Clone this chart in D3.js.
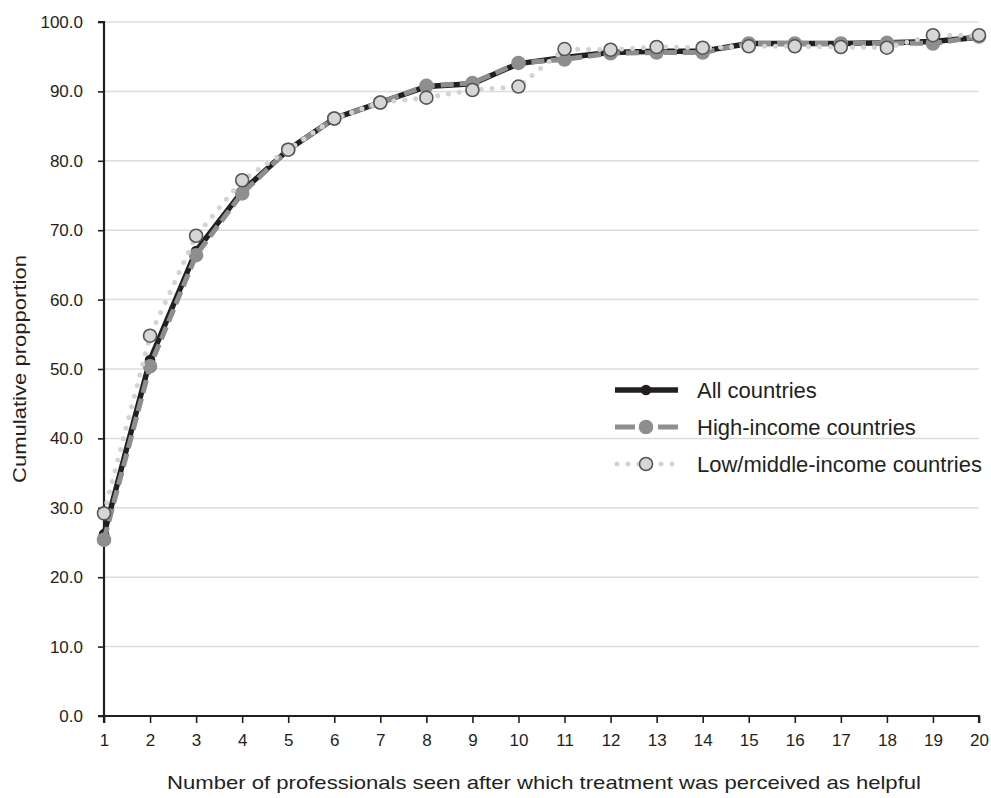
<!DOCTYPE html>
<html>
<head>
<meta charset="utf-8">
<script src="https://cdn.jsdelivr.net/npm/d3@7"></script>
<style>
  body { margin: 0; background: #fff; }
  text { font-family: "Liberation Sans", Arial, sans-serif; fill: #231f20; }
</style>
</head>
<body>
<script>
var professionals = d3.range(1, 21)
var allCountries = [26.2, 51.3, 67.0, 75.6, 81.6, 86.1, 88.4, 90.7, 91.1, 94.0, 94.9, 95.6, 95.8, 95.8, 96.9, 96.9, 96.9, 97.0, 97.2, 97.8]
var highIncome   = [25.4, 50.4, 66.4, 75.3, 81.6, 86.1, 88.4, 90.8, 91.2, 94.1, 94.6, 95.5, 95.6, 95.6, 96.9, 96.9, 96.9, 97.0, 96.9, 97.9]
var lowMiddle    = [29.2, 54.8, 69.2, 77.2, 81.6, 86.1, 88.4, 89.1, 90.2, 90.7, 96.1, 96.0, 96.4, 96.3, 96.5, 96.5, 96.4, 96.3, 98.1, 98.1]
var yTicks = [0, 10, 20, 30, 40, 50, 60, 70, 80, 90, 100]
var seriesNames = ["All countries", "High-income countries", "Low/middle-income countries"]

var margin = { top: 22, right: 12, bottom: 82, left: 104 },
    width = 991 - margin.left - margin.right,
    height = 798 - margin.top - margin.bottom

var svg = d3.select("body").append("svg")
    .attr("width", 991)
    .attr("height", 798)
  .append("g")
    .attr("transform", "translate(" + margin.left + "," + margin.top + ")")

var x = d3.scaleLinear().domain([1, 20]).range([0, 875])
var y = d3.scaleLinear().domain([0, 100]).range([height, 0])

// gridlines
svg.selectAll(".grid")
    .data(yTicks.slice(1))
  .enter().append("line")
    .attr("x1", 0).attr("x2", 875)
    .attr("y1", function(d) { return y(d) })
    .attr("y2", function(d) { return y(d) })
    .style("stroke", "#dcdcdc")
    .style("stroke-width", 1.5)

// axes
var yAxis = svg.append("g")
    .call(d3.axisLeft(y).tickValues(yTicks).tickFormat(d3.format(".1f")).tickSize(6).tickPadding(15))
var xAxis = svg.append("g")
    .attr("transform", "translate(0," + height + ")")
    .call(d3.axisBottom(x).tickValues(professionals).tickFormat(d3.format("d")).tickSize(7).tickPadding(11))

;[yAxis, xAxis].forEach(function(a) {
  a.select(".domain").style("stroke", "#231f20").style("stroke-width", 2.2)
  a.selectAll(".tick line").style("stroke", "#231f20").style("stroke-width", 1.6)
  a.selectAll(".tick text").style("font-size", "17px").style("fill", "#231f20")
})
yAxis.select(".domain").attr("d", "M-6,0H0V" + height + "H-6")
xAxis.select(".domain").attr("d", "M0,7V0H875V7")

// titles
svg.append("text")
    .attr("transform", "translate(-78," + (height / 2) + ") rotate(-90)")
    .attr("text-anchor", "middle")
    .style("font-size", "18px")
    .attr("textLength", 228)
    .attr("lengthAdjust", "spacingAndGlyphs")
    .text("Cumulative propportion")

svg.append("text")
    .attr("x", 440)
    .attr("y", height + 73)
    .attr("text-anchor", "middle")
    .style("font-size", "19px")
    .attr("textLength", 754)
    .attr("lengthAdjust", "spacingAndGlyphs")
    .text("Number of professionals seen after which treatment was perceived as helpful")

var styles = [
  { values: allCountries, stroke: "#231f20", width: 5.5, dash: null, cap: "butt", r: 4.5, fill: "#231f20", mstroke: "#231f20" },
  { values: highIncome, stroke: "#8e8e8e", width: 5, dash: "13,6", cap: "butt", r: 6.5, fill: "#8e8e8e", mstroke: "#8e8e8e" },
  { values: lowMiddle, stroke: "#d3d3d3", width: 5, dash: "0,11", cap: "round", r: 6.5, fill: "#d6d6d6", mstroke: "#555555" }
]

var line = d3.line()
    .x(function(d, i) { return x(professionals[i]) })
    .y(function(d) { return y(d) })

styles.forEach(function(s) {
  svg.append("path")
      .datum(s.values)
      .attr("d", line)
      .style("fill", "none")
      .style("stroke", s.stroke)
      .style("stroke-width", s.width)
      .style("stroke-dasharray", s.dash)
      .style("stroke-linecap", s.cap)
      .style("stroke-linejoin", "round")
  svg.selectAll(null)
      .data(s.values)
    .enter().append("circle")
      .attr("cx", function(d, i) { return x(professionals[i]) })
      .attr("cy", function(d) { return y(d) })
      .attr("r", s.r)
      .style("fill", s.fill)
      .style("stroke", s.mstroke)
      .style("stroke-width", 1.6)
})

// legend
var legend = svg.selectAll(".legend")
    .data(styles)
  .enter().append("g")
    .attr("class", "legend")
    .attr("transform", function(d, i) { return "translate(511," + (368 + i * 37) + ")" })

legend.append("line")
    .attr("x1", function(d, i) { return i == 2 ? 2 : 0 })
    .attr("x2", 63)
    .style("stroke", function(d) { return d.stroke })
    .style("stroke-width", function(d) { return d.width })
    .style("stroke-dasharray", function(d, i) { return i == 1 ? "20,8,7,8,20" : d.dash })
    .style("stroke-linecap", function(d) { return d.cap })

legend.append("circle")
    .attr("cx", 31)
    .attr("r", function(d) { return d.r })
    .style("fill", function(d) { return d.fill })
    .style("stroke", function(d) { return d.mstroke })
    .style("stroke-width", 1.6)

legend.append("text")
    .attr("x", 82)
    .attr("dy", "0.35em")
    .style("font-size", "22px")
    .text(function(d, i) { return seriesNames[i] })
</script>
</body>
</html>
